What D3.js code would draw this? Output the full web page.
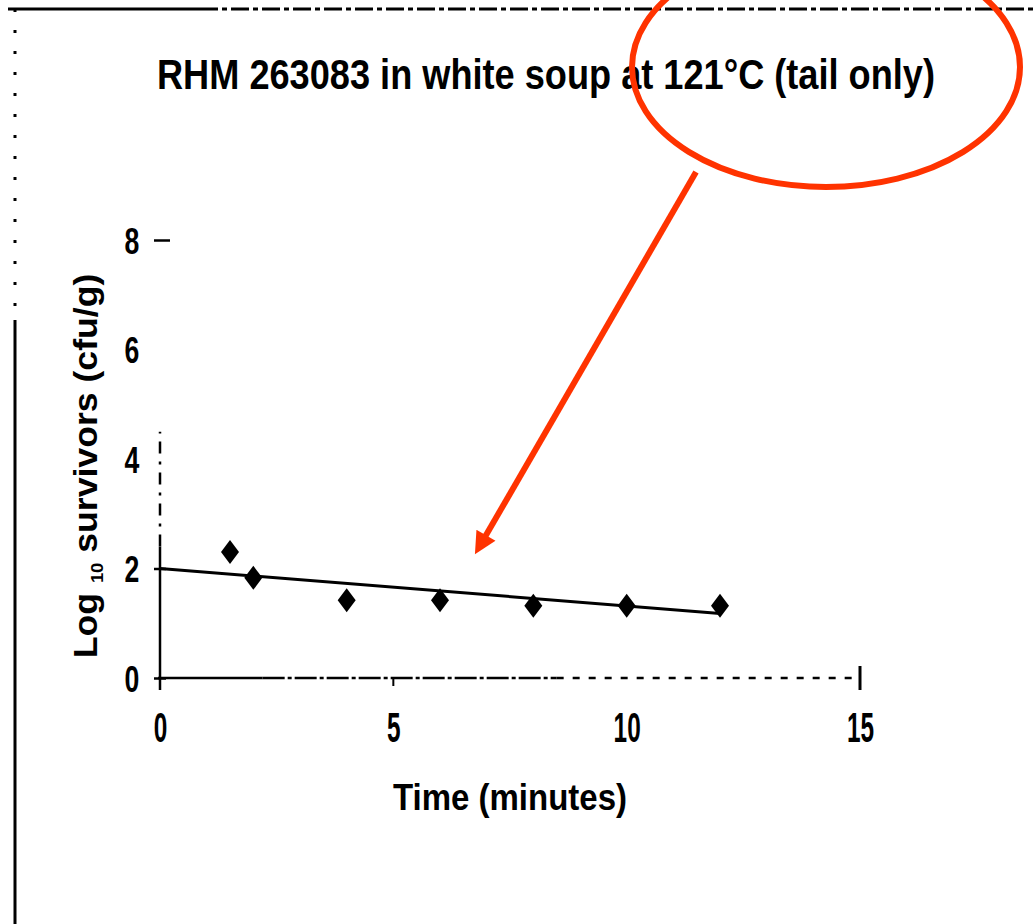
<!DOCTYPE html>
<html lang="en">
<head>
<meta charset="utf-8">
<title>RHM 263083 in white soup</title>
<script src="https://cdn.jsdelivr.net/npm/d3@7"></script>
<style>
  body { margin: 0; background: #fff; }
  text { font-family: "Liberation Sans", Arial, sans-serif; font-weight: bold; fill: #000; }
</style>
</head>
<body>
<script>
// data
var times = [1.5, 2, 4, 6, 8, 10, 12];
var logSurvivors = [2.3, 1.83, 1.42, 1.42, 1.32, 1.32, 1.32];
var fitTimes = [0, 12];
var fitValues = [2.0, 1.18];
var xTicks = [0, 5, 10, 15];
var yTicks = [0, 2, 4, 6, 8];

var width = 1035, height = 924;
var red = "#ff3300";

var svg = d3.select("body").append("svg")
    .attr("width", width)
    .attr("height", height);

// frame of the scanned page
svg.append("line").attr("x1", 8).attr("y1", 9).attr("x2", 200).attr("y2", 9)
    .attr("stroke", "#000").attr("stroke-width", 3);
svg.append("line").attr("x1", 200).attr("y1", 9).attr("x2", 1035).attr("y2", 9)
    .attr("stroke", "#000").attr("stroke-width", 3).attr("stroke-dasharray", "18 4 5 4");
svg.append("line").attr("x1", 15).attr("y1", 9).attr("x2", 15).attr("y2", 320)
    .attr("stroke", "#000").attr("stroke-width", 3).attr("stroke-dasharray", "3 18");
svg.append("line").attr("x1", 15).attr("y1", 320).attr("x2", 15).attr("y2", 924)
    .attr("stroke", "#000").attr("stroke-width", 3);

// scales
var x = d3.scaleLinear().domain([0, 15]).range([160, 860]);
var y = d3.scaleLinear().domain([0, 8]).range([678, 240]);

// title (condensed like the original)
svg.append("text")
    .attr("x", 157).attr("y", 89)
    .attr("font-size", 43)
    .attr("textLength", 778)
    .attr("lengthAdjust", "spacingAndGlyphs")
    .text("RHM 263083 in white soup at 121°C (tail only)");

// x axis
var xAxis = svg.append("g")
    .attr("transform", "translate(0," + y(0) + ")")
    .call(d3.axisBottom(x).tickValues(xTicks).tickSize(0).tickFormat(d3.format("d")));
xAxis.select(".domain").remove();
xAxis.selectAll("text")
    .attr("font-family", null).attr("font-size", 42)
    .attr("x", 0).attr("y", 0).attr("dy", null)
    .attr("transform", "translate(0,64) scale(0.58,1)");

svg.append("line").attr("x1", x(0) - 2).attr("x2", x(2.2)).attr("y1", y(0)).attr("y2", y(0))
    .attr("stroke", "#000").attr("stroke-width", 2.5);
svg.append("line").attr("x1", x(2.2)).attr("x2", x(8.5)).attr("y1", y(0)).attr("y2", y(0))
    .attr("stroke", "#000").attr("stroke-width", 2.5).attr("stroke-dasharray", "22 3 4 3");
svg.append("line").attr("x1", x(8.5)).attr("x2", x(15)).attr("y1", y(0)).attr("y2", y(0))
    .attr("stroke", "#000").attr("stroke-width", 2.5).attr("stroke-dasharray", "7 9");
svg.append("line").attr("x1", x(5)).attr("x2", x(5)).attr("y1", y(0)).attr("y2", y(0) + 8)
    .attr("stroke", "#000").attr("stroke-width", 2);
svg.append("line").attr("x1", x(15)).attr("x2", x(15)).attr("y1", y(0) - 12).attr("y2", y(0) + 12)
    .attr("stroke", "#000").attr("stroke-width", 3);

// y axis
var yAxis = svg.append("g")
    .attr("transform", "translate(" + x(0) + ",0)")
    .call(d3.axisLeft(y).tickValues(yTicks).tickSize(6).tickFormat(d3.format("d")));
yAxis.select(".domain").remove();
yAxis.selectAll(".tick line").attr("stroke-width", 2.5)
    .attr("x2", function(d){ return d === 8 ? 10 : -6; })
    .attr("x1", function(d){ return d === 8 ? -6 : 6; })
    .attr("display", function(d){ return (d === 4 || d === 6) ? "none" : null; });
yAxis.selectAll("text")
    .attr("font-family", null).attr("font-size", 37)
    .attr("text-anchor", "middle")
    .attr("x", 0).attr("y", 0).attr("dy", "0.36em")
    .attr("transform", "translate(-28,0) scale(0.72,1)");

svg.append("line").attr("x1", x(0)).attr("x2", x(0)).attr("y1", y(0) + 12).attr("y2", y(2.4))
    .attr("stroke", "#000").attr("stroke-width", 2.5);
svg.append("line").attr("x1", x(0)).attr("x2", x(0)).attr("y1", y(2.4)).attr("y2", y(4.5))
    .attr("stroke", "#000").attr("stroke-width", 2.5).attr("stroke-dasharray", "12 8 3 8");

// axis titles
svg.append("text")
    .attr("x", 393).attr("y", 810)
    .attr("font-size", 37)
    .attr("textLength", 234)
    .attr("lengthAdjust", "spacingAndGlyphs")
    .text("Time (minutes)");

var yl = svg.append("text")
    .attr("transform", "translate(97,466) rotate(-90) scale(1.08,1)")
    .attr("text-anchor", "middle")
    .attr("font-size", 33);
yl.append("tspan").text("Log ");
yl.append("tspan").attr("font-size", 17).attr("dy", 6).text("10");
yl.append("tspan").attr("dy", -6).text(" survivors (cfu/g)");

// fitted line
svg.append("path")
    .datum(d3.zip(fitTimes, fitValues))
    .attr("fill", "none")
    .attr("stroke", "#000")
    .attr("stroke-width", 3)
    .attr("d", d3.line().x(function(d){ return x(d[0]); }).y(function(d){ return y(d[1]); }));

// observations, tall diamonds
svg.selectAll(".pt")
    .data(d3.zip(times, logSurvivors))
    .enter().append("path")
    .attr("class", "pt")
    .attr("transform", function(d){ return "translate(" + x(d[0]) + "," + y(d[1]) + ")"; })
    .attr("d", "M0,-12L9,0L0,12L-9,0Z")
    .attr("fill", "#000");

// red annotation: ellipse round the temperature, arrow to the line
svg.append("ellipse")
    .attr("cx", 826).attr("cy", 67)
    .attr("rx", 194).attr("ry", 120)
    .attr("fill", "none")
    .attr("stroke", red)
    .attr("stroke-width", 6);

svg.append("defs").append("marker")
    .attr("id", "head")
    .attr("viewBox", "0 0 10 10")
    .attr("refX", 5.4).attr("refY", 5)
    .attr("markerUnits", "userSpaceOnUse")
    .attr("markerWidth", 26).attr("markerHeight", 22)
    .attr("orient", "auto")
    .append("path").attr("d", "M0,0 L10,5 L0,10 z").attr("fill", red);

svg.append("line")
    .attr("x1", 696).attr("y1", 172)
    .attr("x2", 480).attr("y2", 545.6)
    .attr("stroke", red)
    .attr("stroke-width", 6)
    .attr("marker-end", "url(#head)");
</script>
</body>
</html>
